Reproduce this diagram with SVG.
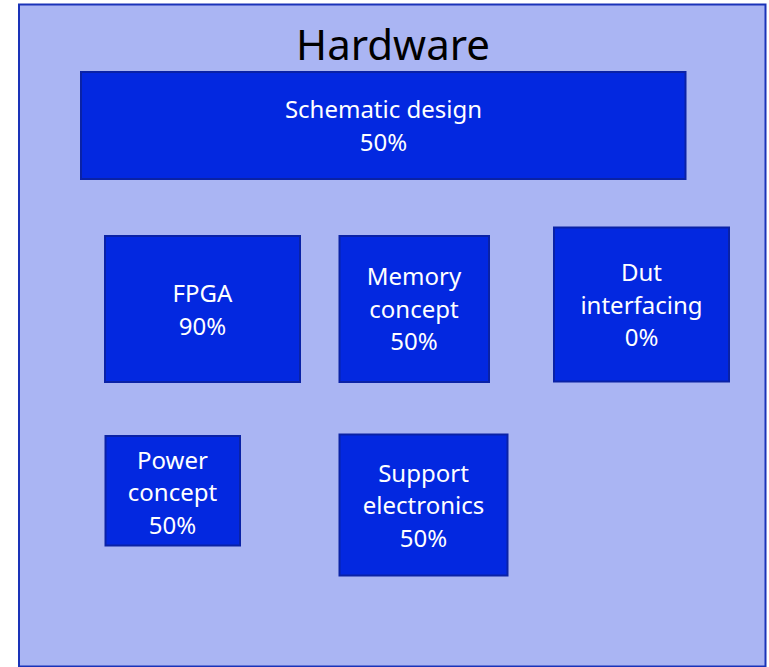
<svg xmlns="http://www.w3.org/2000/svg" width="769" height="667" viewBox="0 0 769 667">
<style>
.frame{fill:#aab5f3;stroke:#1a33b8;stroke-width:2}
.box{fill:#0328e0;stroke:#0a22a6;stroke-width:2}
.t{font-family:"Noto Sans","Open Sans",sans-serif;font-size:24px;fill:#ffffff;text-anchor:middle}
.title{font-family:"Noto Sans","Open Sans",sans-serif;font-size:42px;fill:#000000;text-anchor:middle}
</style>
<rect width="769" height="667" fill="#ffffff"/>
<g id="hardware">
<rect class="frame" x="19" y="4.5" width="746.5" height="662"/>
<text class="title" x="393" y="60">Hardware</text>
</g>
<g id="connectors"></g>
<g id="schematic">
<rect class="box" x="81" y="72" width="604.5" height="107"/>
<text class="t" x="383.5" y="118">Schematic design</text>
<text class="t" x="383.5" y="151">50%</text>
</g>
<g id="fpga">
<rect class="box" x="105" y="236" width="195" height="146"/>
<text class="t" x="202.5" y="302">FPGA</text>
<text class="t" x="202.5" y="334.5">90%</text>
</g>
<g id="memory">
<rect class="box" x="339.5" y="236" width="149.5" height="146"/>
<text class="t" x="414" y="284.5">Memory</text>
<text class="t" x="414" y="317.5">concept</text>
<text class="t" x="414" y="350">50%</text>
</g>
<g id="dut">
<rect class="box" x="554" y="227.5" width="175" height="154"/>
<text class="t" x="641.5" y="280.5">Dut</text>
<text class="t" x="641.5" y="313.5">interfacing</text>
<text class="t" x="641.5" y="346">0%</text>
</g>
<g id="power">
<rect class="box" x="105.5" y="436" width="134.5" height="109.5"/>
<text class="t" x="172.5" y="468.5">Power</text>
<text class="t" x="172.5" y="500.5">concept</text>
<text class="t" x="172.5" y="533.5">50%</text>
</g>
<g id="support">
<rect class="box" x="339.5" y="434.5" width="168" height="141"/>
<text class="t" x="423.5" y="482">Support</text>
<text class="t" x="423.5" y="514">electronics</text>
<text class="t" x="423.5" y="547">50%</text>
</g>
</svg>
